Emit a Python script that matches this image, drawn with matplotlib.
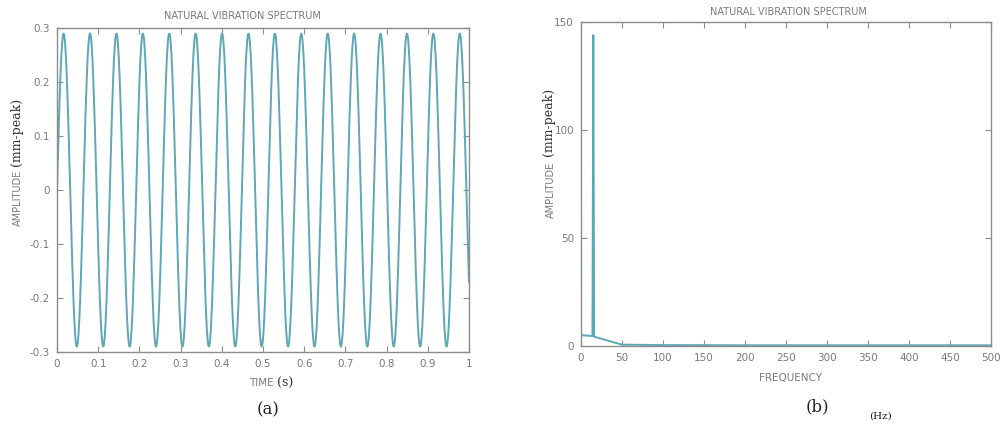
import numpy as np
import matplotlib
matplotlib.use("Agg")
import matplotlib.pyplot as plt

# ---- data ----
# (a) time signal: a sine of constant amplitude, read frequency and peak value
signal_freq_hz = 15.6
signal_amp = 0.29
sample_rate_hz = 1000          # implied by the 0-500 Hz spectrum axis
t_start, t_end = 0.0, 1.0

# (b) amplitude spectrum (frequency in Hz, amplitude in mm-peak)
spec_freq = [0, 14, 15, 16, 50, 100, 200, 300, 400, 500]
spec_amp = [5.0, 4.6, 144.0, 4.3, 0.6, 0.4, 0.3, 0.3, 0.3, 0.3]

left_xticks = [0, 0.1, 0.2, 0.3, 0.4, 0.5, 0.6, 0.7, 0.8, 0.9, 1]
left_xticklabels = ["0", "0.1", "0.2", "0.3", "0.4", "0.5", "0.6", "0.7", "0.8", "0.9", "1"]
left_yticks = [-0.3, -0.2, -0.1, 0, 0.1, 0.2, 0.3]
left_yticklabels = ["-0.3", "-0.2", "-0.1", "0", "0.1", "0.2", "0.3"]
right_xticks = [0, 50, 100, 150, 200, 250, 300, 350, 400, 450, 500]
right_yticks = [0, 50, 100, 150]

time = np.arange(t_start, t_end + 1e-9, 1.0 / sample_rate_hz)
signal = signal_amp * np.sin(2 * np.pi * signal_freq_hz * time)

line_color = "#5ea7b6"
grey = "#7a7a7a"
spine_grey = "#8c8c8c"

fig = plt.figure(figsize=(10, 4.25), dpi=100)
fig.patch.set_facecolor("white")

ax1 = fig.add_axes([0.057, 0.1718, 0.412, 0.762])
ax2 = fig.add_axes([0.581, 0.186, 0.410, 0.762])

def style(ax):
    for s in ax.spines.values():
        s.set_color(spine_grey)
        s.set_linewidth(1.0)
    ax.tick_params(direction="in", top=True, right=True, length=4,
                   width=0.8, color=spine_grey, labelcolor=grey,
                   labelsize=7.5, pad=5)

ax1.plot(time, signal, color=line_color, lw=1.4)
ax1.set_xlim(0, 1)
ax1.set_ylim(-0.3, 0.3)
ax1.set_xticks(left_xticks)
ax1.set_xticklabels(left_xticklabels)
ax1.set_yticks(left_yticks)
ax1.set_yticklabels(left_yticklabels)
style(ax1)

ax2.plot(spec_freq, spec_amp, color=line_color, lw=1.4)
ax2.set_xlim(0, 500)
ax2.set_ylim(0, 150)
ax2.set_xticks(right_xticks)
ax2.set_yticks(right_yticks)
style(ax2)

def px(x, y):
    return x / 1000.0, 1 - y / 425.0

# titles
fig.text(*px(242, 16), "NATURAL VIBRATION SPECTRUM", ha="center", va="center",
         fontsize=7, color=grey)
fig.text(*px(788, 12), "NATURAL VIBRATION SPECTRUM", ha="center", va="center",
         fontsize=7, color=grey)

# y labels (sans part + serif part)
fig.text(*px(18, 198), "AMPLITUDE", rotation=90, ha="center", va="center",
         fontsize=7, color=grey)
fig.text(*px(17, 132), "(mm-peak)", rotation=90, ha="center", va="center",
         fontsize=9, color="#333333", family="DejaVu Serif")
fig.text(*px(551, 190), "AMPLITUDE", rotation=90, ha="center", va="center",
         fontsize=7, color=grey)
fig.text(*px(548, 122), "(mm-peak)", rotation=90, ha="center", va="center",
         fontsize=9, color="#333333", family="DejaVu Serif")

# x labels
fig.text(*px(261, 383), "TIME", ha="center", va="center", fontsize=7.5, color=grey)
fig.text(*px(285, 383), "(s)", ha="center", va="center", fontsize=9,
         color="#333333", family="DejaVu Serif")
fig.text(*px(790, 378), "FREQUENCY", ha="center", va="center", fontsize=7.5, color=grey)

# panel labels
fig.text(*px(268, 410), "(a)", ha="center", va="center", fontsize=12,
         color="#222222", family="DejaVu Serif")
fig.text(*px(817, 407), "(b)", ha="center", va="center", fontsize=12,
         color="#222222", family="DejaVu Serif")
fig.text(*px(880, 416), "(Hz)", ha="center", va="center", fontsize=7.5,
         color="#222222", family="DejaVu Serif")

fig.savefig("out.png", dpi=100, facecolor="white")
